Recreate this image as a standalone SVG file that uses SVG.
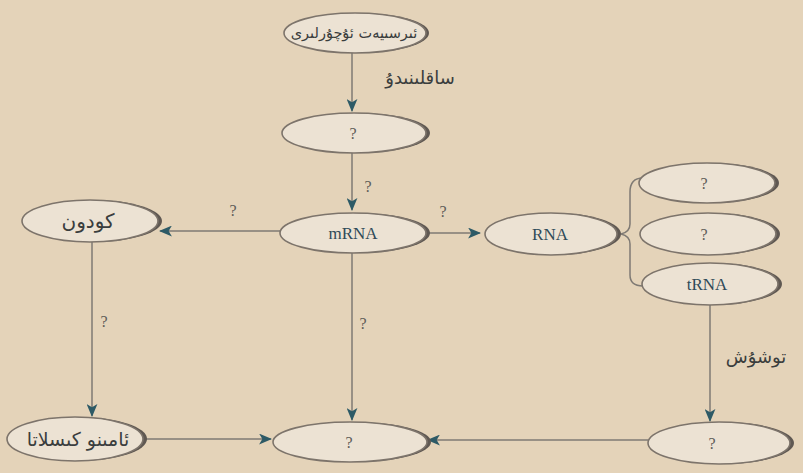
<svg xmlns="http://www.w3.org/2000/svg" width="803" height="473" viewBox="0 0 803 473">
<defs>
<style>
.sh{fill:#5f5852}
.el{fill:#ece2d3;stroke:#7d746b;stroke-width:1.6}
.en{font-family:"Liberation Serif",serif;font-size:17px;fill:#2f4a58;text-anchor:middle}
.ug{font-family:"DejaVu Sans",sans-serif;font-size:18px;fill:#3a3d3d;text-anchor:middle}
.q{font-family:"Liberation Serif",serif;font-size:16px;fill:#5e5c58;text-anchor:middle}
.ln{stroke:#7f7a74;stroke-width:1.5;fill:none}
</style>
<marker id="ah" viewBox="0 0 12 10" refX="11" refY="5" markerWidth="13" markerHeight="11" markerUnits="userSpaceOnUse" orient="auto">
<path d="M0,0 L12,5 L0,10 L3,5 Z" fill="#2d5a66"/>
</marker>
</defs>
<rect width="803" height="473" fill="#e4d3b9"/>

<g id="connectors">
<line class="ln" x1="352" y1="53" x2="352" y2="111" marker-end="url(#ah)"/>
<text class="ug" x="420" y="84">ساقلىنىدۇ</text>
<line class="ln" x1="352" y1="153" x2="352" y2="210" marker-end="url(#ah)"/>
<text class="q" x="368" y="192">?</text>
<line class="ln" x1="427" y1="233" x2="480" y2="233" marker-end="url(#ah)"/>
<text class="q" x="443" y="217">?</text>
<line class="ln" x1="280" y1="231" x2="160" y2="231" marker-end="url(#ah)"/>
<text class="q" x="233" y="216">?</text>
<line class="ln" x1="92" y1="242" x2="92" y2="416" marker-end="url(#ah)"/>
<text class="q" x="104" y="327">?</text>
<line class="ln" x1="352" y1="253" x2="352" y2="420" marker-end="url(#ah)"/>
<text class="q" x="363" y="329">?</text>
<line class="ln" x1="143" y1="439" x2="271" y2="439" marker-end="url(#ah)"/>
<line class="ln" x1="648" y1="440" x2="428" y2="440" marker-end="url(#ah)"/>
<line class="ln" x1="710" y1="305" x2="710" y2="421" marker-end="url(#ah)"/>
<text class="ug" x="756" y="363">توشۇش</text>
<path class="ln" d="M643,178 Q630,178 630,192 L630,224 Q630,232 621,234 Q630,236 630,244 L630,275 Q630,286 643,286"/>
</g>

<g id="n-info">
<ellipse class="sh" cx="358" cy="33" rx="71" ry="20"/>
<ellipse class="el" cx="355" cy="33" rx="71" ry="20"/>
<text class="ug" x="354" y="38" style="font-size:14.5px">ئىرسىيەت ئۇچۇرلىرى</text>
</g>
<g id="n-q1">
<ellipse class="sh" cx="358" cy="133" rx="72" ry="20"/>
<ellipse class="el" cx="354" cy="133" rx="72" ry="20"/>
<text class="q" x="353" y="139">?</text>
</g>
<g id="n-mrna">
<ellipse class="sh" cx="357" cy="233" rx="73" ry="20"/>
<ellipse class="el" cx="353" cy="233" rx="73" ry="20"/>
<text class="en" x="353" y="239">mRNA</text>
</g>
<g id="n-rna">
<ellipse class="sh" cx="555" cy="234" rx="66" ry="21"/>
<ellipse class="el" cx="551" cy="234" rx="66" ry="21"/>
<text class="en" x="550" y="240">RNA</text>
</g>
<g id="n-q2">
<ellipse class="sh" cx="711" cy="183" rx="68" ry="20"/>
<ellipse class="el" cx="707" cy="183" rx="68" ry="20"/>
<text class="q" x="704" y="189">?</text>
</g>
<g id="n-q3">
<ellipse class="sh" cx="712" cy="234" rx="68" ry="21"/>
<ellipse class="el" cx="708" cy="234" rx="68" ry="21"/>
<text class="q" x="704" y="240">?</text>
</g>
<g id="n-trna">
<ellipse class="sh" cx="714" cy="284" rx="68" ry="21"/>
<ellipse class="el" cx="710" cy="284" rx="68" ry="21"/>
<text class="en" x="707" y="290">tRNA</text>
</g>
<g id="n-codon">
<ellipse class="sh" cx="94" cy="221" rx="68" ry="21"/>
<ellipse class="el" cx="90" cy="221" rx="68" ry="21"/>
<text class="ug" x="88" y="228" style="font-size:20px">كودون</text>
</g>
<g id="n-amino">
<ellipse class="sh" cx="79" cy="439" rx="68" ry="22"/>
<ellipse class="el" cx="75" cy="439" rx="68" ry="22"/>
<text class="ug" x="78" y="446" style="font-size:19px">ئامىنو كىسلاتا</text>
</g>
<g id="n-q4">
<ellipse class="sh" cx="354" cy="442" rx="77" ry="20"/>
<ellipse class="el" cx="350" cy="442" rx="77" ry="20"/>
<text class="q" x="349" y="448">?</text>
</g>
<g id="n-q5">
<ellipse class="sh" cx="723" cy="443" rx="71" ry="21"/>
<ellipse class="el" cx="719" cy="443" rx="71" ry="21"/>
<text class="q" x="712" y="449">?</text>
</g>
</svg>
